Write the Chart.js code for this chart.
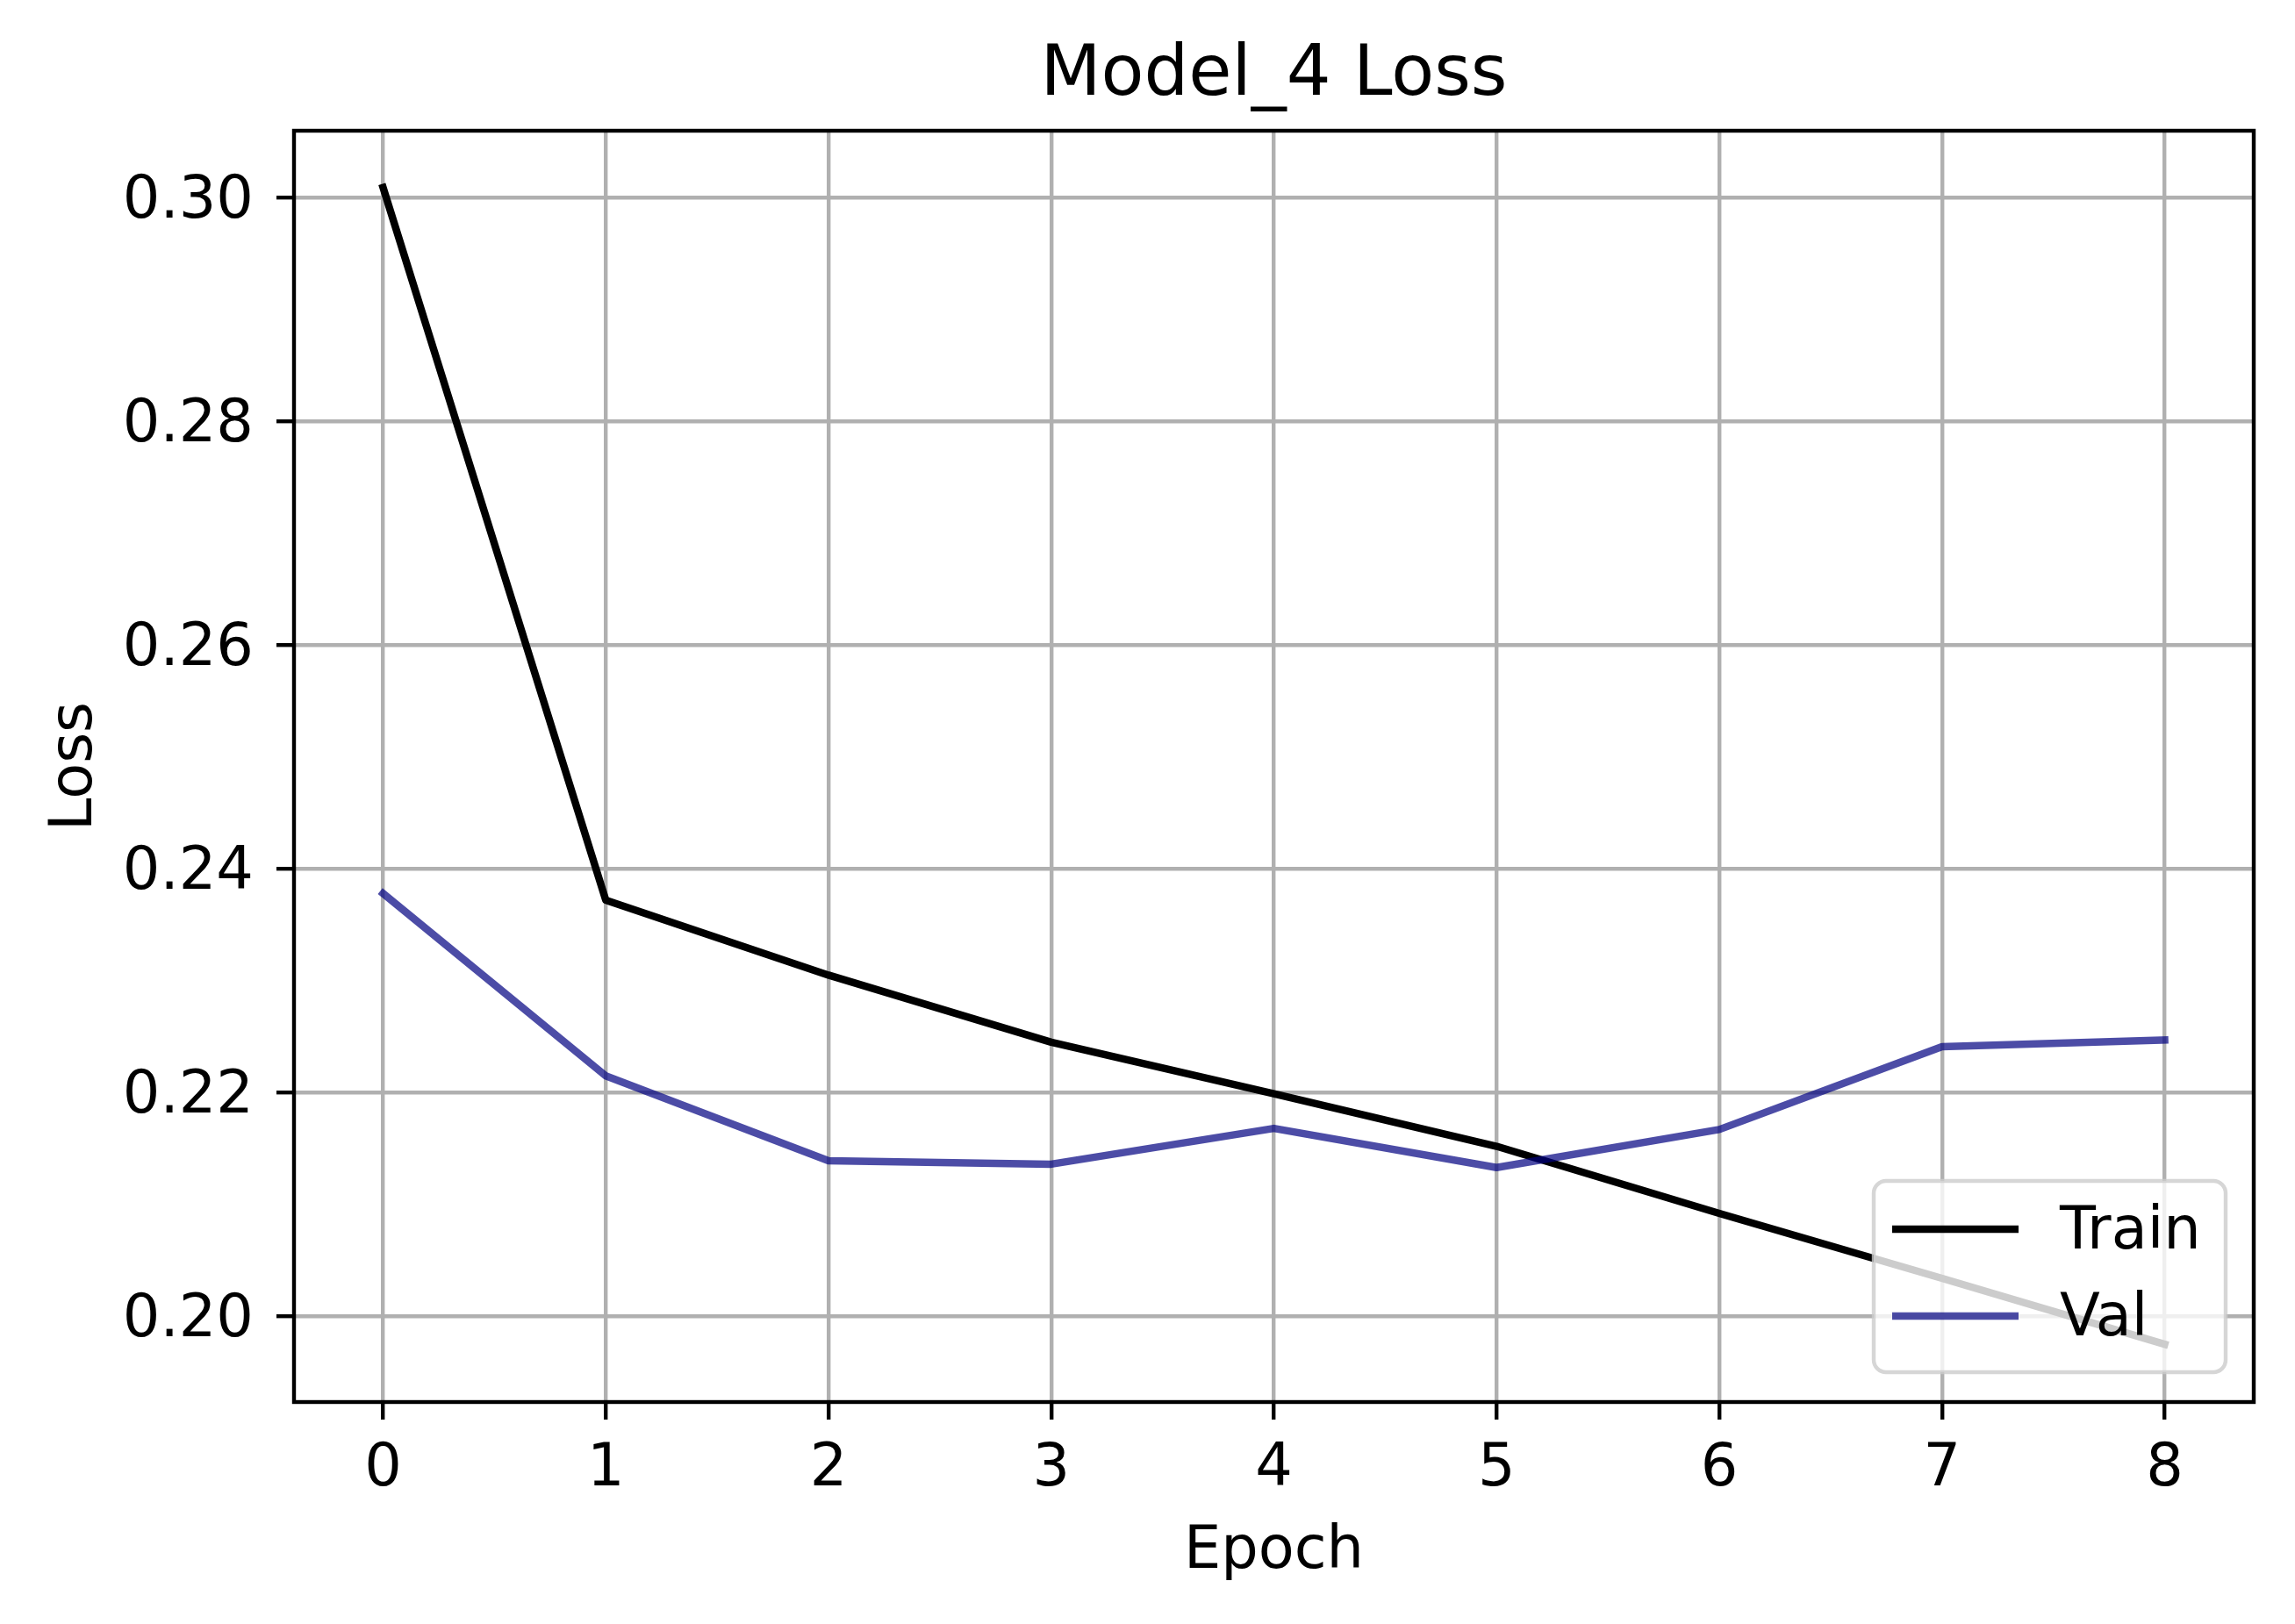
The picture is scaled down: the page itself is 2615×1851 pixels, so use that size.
<!DOCTYPE html>
<html><head><meta charset="utf-8">
<script src="https://cdn.jsdelivr.net/npm/chart.js@4.4.1/dist/chart.umd.min.js"></script>
<style>html,body{margin:0;padding:0;background:#fff;overflow:hidden}#wrap{width:2615px;height:1851px}</style>
</head><body><div id="wrap"><canvas id="c" width="2615" height="1851"></canvas></div>
<script>
const epochs = [0, 1, 2, 3, 4, 5, 6, 7, 8];
const trainLoss = [0.3009, 0.2372, 0.2305, 0.2245, 0.2199, 0.2152, 0.2092, 0.2034, 0.1975];
const valLoss = [0.2378, 0.2215, 0.2139, 0.2136, 0.2168, 0.2133, 0.2167, 0.2241, 0.2247];
const seriesNames = ['Train', 'Val'];
const xTicks = [0, 1, 2, 3, 4, 5, 6, 7, 8];
const yTicks = [0.20, 0.22, 0.24, 0.26, 0.28, 0.30];
const yTickLabels = ['0.20', '0.22', '0.24', '0.26', '0.28', '0.30'];
const titleText = 'Model_4 Loss';
const xAxisTitle = 'Epoch';
const yAxisTitle = 'Loss';

const FONT = '"DejaVu Sans", "Liberation Sans", sans-serif';

const framePlugin = {
  id: 'frame',
  afterDatasetsDraw(chart) {
    const a = chart.chartArea, ctx = chart.ctx;
    ctx.save();
    ctx.strokeStyle = '#000';
    ctx.lineWidth = 4.4;
    ctx.lineJoin = 'miter';
    ctx.strokeRect(a.left, a.top, a.right - a.left, a.bottom - a.top);
    ctx.restore();
  }
};

const legendPlugin = {
  id: 'mplLegend',
  afterDraw(chart) {
    const ctx = chart.ctx, a = chart.chartArea;
    const w = 401, h = 218, r = 14;
    const x = a.right - 32 - w, y = a.bottom - 34 - h;
    ctx.save();
    ctx.beginPath();
    ctx.roundRect(x, y, w, h, r);
    ctx.fillStyle = 'rgba(255,255,255,0.8)';
    ctx.fill();
    ctx.lineWidth = 4.4;
    ctx.strokeStyle = 'rgba(204,204,204,0.8)';
    ctx.stroke();
    chart.data.datasets.forEach((ds, i) => {
      const ly = y + 55 + i * 99;
      ctx.beginPath();
      ctx.moveTo(x + 21, ly);
      ctx.lineTo(x + 165, ly);
      ctx.lineCap = 'butt';
      ctx.strokeStyle = ds.borderColor;
      ctx.lineWidth = ds.borderWidth;
      ctx.stroke();
      ctx.fillStyle = '#000';
      ctx.font = '67px ' + FONT;
      ctx.textBaseline = 'middle';
      ctx.textAlign = 'left';
      ctx.fillText(ds.label, x + 212, ly + 5);
    });
    ctx.restore();
  }
};

const toPoints = (ys) => epochs.map((e, i) => ({ x: e, y: ys[i] }));

new Chart(document.getElementById('c'), {
  type: 'line',
  data: {
    datasets: [
      { label: seriesNames[0], data: toPoints(trainLoss), borderColor: '#000000', borderWidth: 8.5,
        pointRadius: 0, tension: 0, borderCapStyle: 'square', borderJoinStyle: 'round', order: 1, fill: false },
      { label: seriesNames[1], data: toPoints(valLoss), borderColor: 'rgba(0,0,128,0.7)', borderWidth: 8.5,
        pointRadius: 0, tension: 0, borderCapStyle: 'square', borderJoinStyle: 'round', order: 0, fill: false }
    ]
  },
  options: {
    responsive: false,
    animation: false,
    devicePixelRatio: 1,
    layout: { padding: { left: 0, right: 47, top: 0, bottom: 0 } },
    plugins: {
      legend: { display: false },
      tooltip: { enabled: false },
      title: {
        display: true, text: titleText, fullSize: false, color: '#000',
        font: { family: FONT, size: 80, weight: 'normal', lineHeight: 1.2 },
        padding: { top: 39, bottom: 14 }
      }
    },
    scales: {
      x: {
        type: 'linear', min: -0.4, max: 8.4,
        afterBuildTicks: (s) => { s.ticks = xTicks.map(v => ({ value: v })); },
        afterFit: (s) => { s.height = 253; },
        grid: { color: '#b0b0b0', lineWidth: 4.4, tickColor: '#000', tickWidth: 4.4, tickLength: 20, drawOnChartArea: true },
        border: { display: false },
        ticks: { color: '#000', padding: 17, maxRotation: 0, autoSkip: false,
          font: { family: FONT, size: 67, lineHeight: 1.2 },
          callback: (v) => String(v) },
        title: { display: true, text: xAxisTitle, color: '#000',
          font: { family: FONT, size: 67, lineHeight: 1.2 }, padding: { top: 0, bottom: 41 } }
      },
      y: {
        type: 'linear', min: 0.19234, max: 0.30598,
        afterBuildTicks: (s) => { s.ticks = yTicks.map(v => ({ value: v })); },
        afterFit: (s) => { s.width = 335; },
        grid: { color: '#b0b0b0', lineWidth: 4.4, tickColor: '#000', tickWidth: 4.4, tickLength: 20 },
        border: { display: false },
        ticks: { color: '#000', padding: 26, autoSkip: false, labelOffset: 5,
          font: { family: FONT, size: 67, lineHeight: 1.2 },
          callback: (v, i) => yTickLabels[i] },
        title: { display: true, text: yAxisTitle, color: '#000',
          font: { family: FONT, size: 67, lineHeight: 1.2 }, padding: { top: 46, bottom: 0 } }
      }
    }
  },
  plugins: [framePlugin, legendPlugin]
});
</script></body></html>
